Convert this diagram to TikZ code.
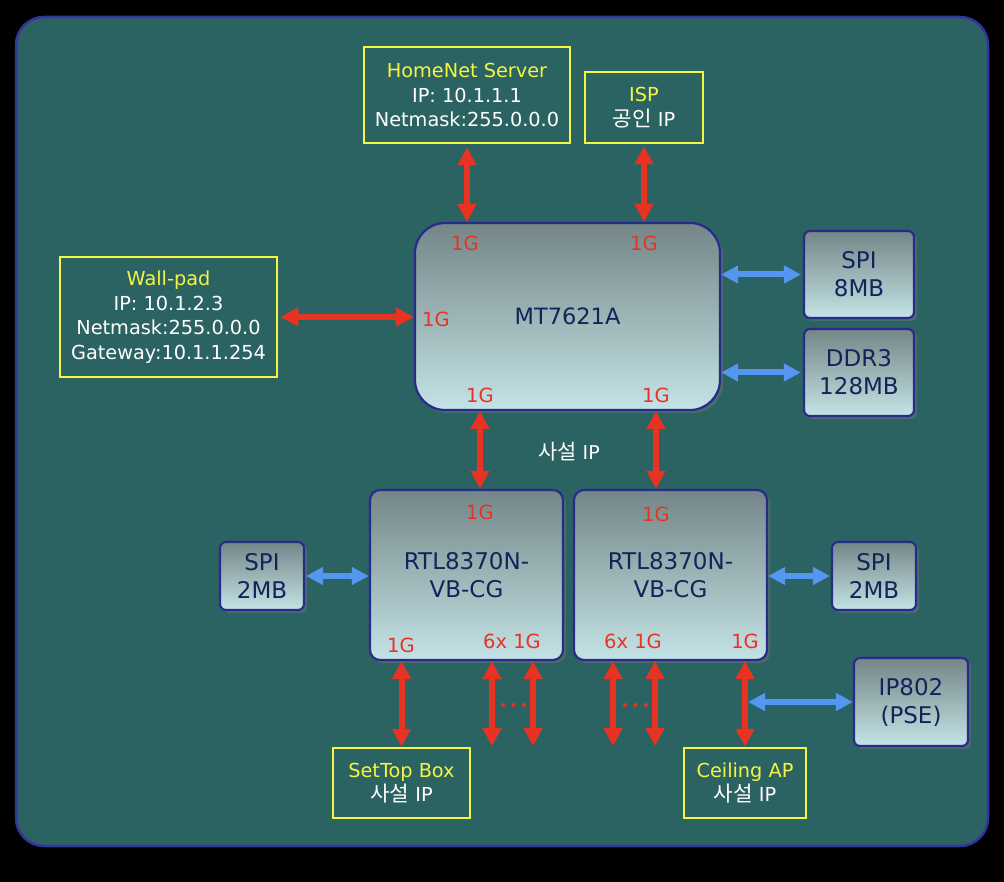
\documentclass[tikz,border=0pt]{standalone}
\usepackage{fontspec}
\setmainfont{DejaVu Sans}
\newfontfamily\krfont[Scale=1.1]{Noto Sans CJK KR}
\usetikzlibrary{arrows.meta,shadows}

\definecolor{panel}{HTML}{2B6262}
\definecolor{rim}{HTML}{3434A0}
\definecolor{chipline}{HTML}{2A2A8C}
\definecolor{chiptop}{HTML}{748687}
\definecolor{chipbot}{HTML}{C4E3E6}
\definecolor{chiptext}{HTML}{14235A}
\definecolor{linkred}{HTML}{E83323}
\definecolor{linkblue}{HTML}{5596F0}
\definecolor{labelyellow}{HTML}{F5F542}

\begin{document}
\begin{tikzpicture}[x=1pt, y=-1pt,
    info/.style={draw=labelyellow, line width=2.5pt, align=center, text=white,
                 inner sep=0pt, font=\fontsize{19.3}{24.5}\selectfont},
    chip/.style={draw=chipline, line width=2.2pt, top color=chiptop, bottom color=chipbot,
                 text=chiptext, align=center, inner sep=0pt,
                 font=\fontsize{23}{28}\selectfont,
                 drop shadow={opacity=0.35, shadow xshift=3pt, shadow yshift=-3pt}},
    port/.style={text=linkred, inner sep=0pt, font=\fontsize{19.5}{20}\selectfont},
    redlink/.style={{Triangle[width=18pt,length=18pt]}-{Triangle[width=18pt,length=18pt]},
                    line width=6pt, linkred},
    bluelink/.style={{Triangle[width=17pt,length=17pt]}-{Triangle[width=17pt,length=17pt]},
                     line width=6pt, linkblue},
  ]
    \useasboundingbox (0,0) rectangle (1004,882);
    \fill[black] (0,0) rectangle (1004,882);
    \draw[rim, fill=panel, line width=2.5pt, rounded corners=28pt] (16,17) rectangle (988,846);

    % Upstream
    \node[info, minimum width=206pt, minimum height=96pt] (homenet) at (467,95)
      {\textcolor{labelyellow}{HomeNet Server}\\IP: 10.1.1.1\\Netmask:255.0.0.0};
    \node[info, minimum width=118pt, minimum height=71pt] (isp) at (644,107.5)
      {\textcolor{labelyellow}{ISP}\\{\krfont 공인} IP};
    \node[info, minimum width=217pt, minimum height=120pt] (wallpad) at (168.5,317)
      {\textcolor{labelyellow}{Wall-pad}\\IP: 10.1.2.3\\Netmask:255.0.0.0\\Gateway:10.1.1.254};

    % SoC and memories
    \node[chip, rounded corners=30pt, minimum width=305pt, minimum height=187pt,
          font=\fontsize{22.5}{26}\selectfont] (mt) at (567.5,316.5) {MT7621A};
    \node[chip, rounded corners=6pt, minimum width=110pt, minimum height=87pt] (spimt) at (859,274.5) {SPI\\8MB};
    \node[chip, rounded corners=6pt, minimum width=110pt, minimum height=87pt] (ddr) at (859,372.5) {DDR3\\128MB};

    \node[port] (mtTopA) at (465,243) {1G};
    \node[port] (mtTopB) at (644,243) {1G};
    \node[port] (mtLeft) at (436,319) {1G};
    \node[port] (mtBotA) at (480,395) {1G};
    \node[port] (mtBotB) at (656,395) {1G};

    \node[text=white, font=\fontsize{19}{20}\selectfont] (lan) at (569,452) {{\krfont 사설} IP};

    % Switches
    \node[chip, rounded corners=10pt, minimum width=193pt, minimum height=170pt] (rtla) at (466.5,575) {RTL8370N-\\VB-CG};
    \node[chip, rounded corners=10pt, minimum width=193pt, minimum height=170pt] (rtlb) at (670.5,575) {RTL8370N-\\VB-CG};
    \node[chip, rounded corners=6pt, minimum width=84pt, minimum height=68pt] (spia) at (262,576) {SPI\\2MB};
    \node[chip, rounded corners=6pt, minimum width=84pt, minimum height=68pt] (spib) at (874,576) {SPI\\2MB};
    \node[chip, rounded corners=6pt, minimum width=114pt, minimum height=88pt] (pse) at (911,702) {IP802\\(PSE)};

    \node[port] (raTop) at (480,512) {1G};
    \node[port] (raBot) at (401,645) {1G};
    \node[port] (raFan) at (512,641) {6x 1G};
    \node[port] (rbTop) at (656,514) {1G};
    \node[port] (rbFan) at (633,641) {6x 1G};
    \node[port] (rbBot) at (745,641) {1G};

    % Clients
    \node[info, minimum width=137pt, minimum height=70pt] (settop) at (401.5,783)
      {\textcolor{labelyellow}{SetTop Box}\\{\krfont 사설} IP};
    \node[info, minimum width=122pt, minimum height=70pt] (ceiling) at (745,783)
      {\textcolor{labelyellow}{Ceiling AP}\\{\krfont 사설} IP};

    \coordinate (fanA1) at (492,746);
    \coordinate (fanA2) at (533,746);
    \coordinate (fanB1) at (613,746);
    \coordinate (fanB2) at (655,746);

    % Arrows
    \draw[redlink, shorten <=3pt] (homenet) -- (homenet |- mt.north);
    \draw[redlink, shorten <=2pt] (isp) -- (isp |- mt.north);
    \draw[redlink, shorten <=2pt] (wallpad) -- (wallpad -| mt.west);
    \draw[redlink] (mtBotA |- mt.south) -- (mtBotA |- rtla.north);
    \draw[redlink] (mtBotB |- mt.south) -- (mtBotB |- rtlb.north);
    \draw[redlink] (settop) -- (settop |- rtla.south);
    \draw[redlink] (fanA1) -- (fanA1 |- rtla.south);
    \draw[redlink] (fanA2) -- (fanA2 |- rtla.south);
    \draw[redlink] (fanB1) -- (fanB1 |- rtlb.south);
    \draw[redlink] (fanB2) -- (fanB2 |- rtlb.south);
    \draw[redlink] (ceiling) -- (ceiling |- rtlb.south);

    \draw[bluelink, shorten <=2pt] (spimt) -- (spimt -| mt.east);
    \draw[bluelink, shorten <=2pt] (ddr) -- (ddr -| mt.east);
    \draw[bluelink, shorten <=1pt] (spia) -- (spia -| rtla.west);
    \draw[bluelink, shorten <=1pt] (spib) -- (spib -| rtlb.east);
    \draw[bluelink, shorten >=3pt] (pse) -- (pse -| ceiling.north);

    \foreach \x in {503,513.5,524,625,635.5,646}
      \fill[linkred] (\x,705) circle (2pt);
  \end{tikzpicture}
\end{document}
